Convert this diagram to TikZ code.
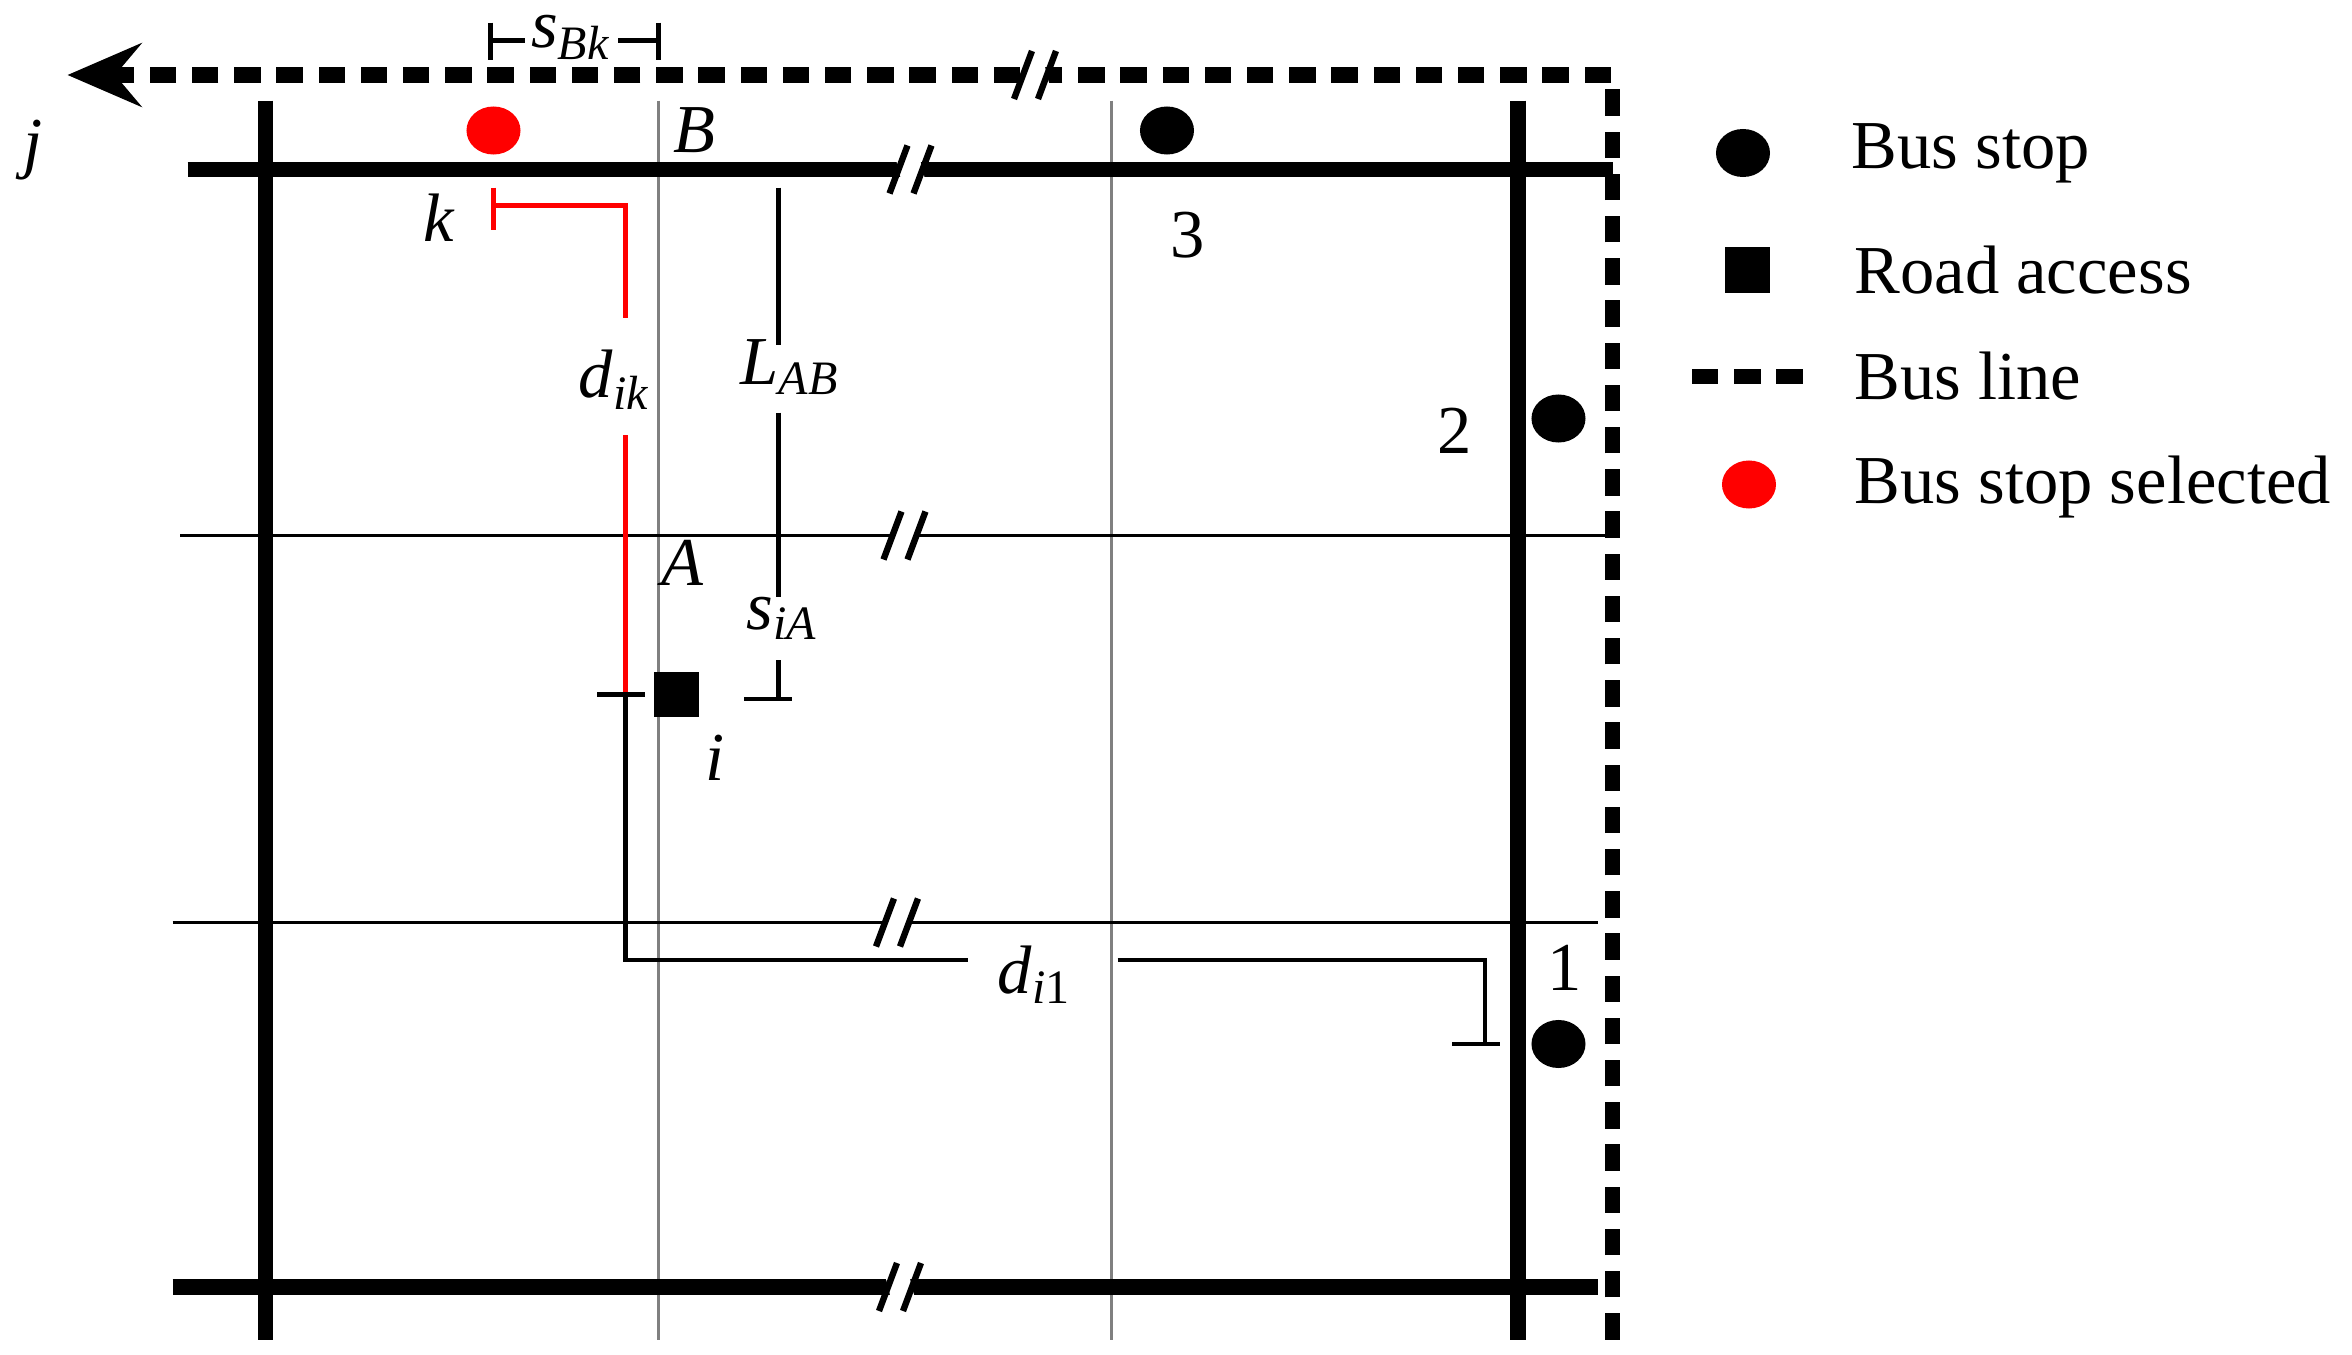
\documentclass[tikz,border=0pt]{standalone}
\usepackage{fontspec}
\setmainfont{Liberation Serif}
\usetikzlibrary{arrows.meta,shapes.geometric}
\newcommand\brk[2]{%
  \fill[white] (#1-12,#2-16) -- (#1+4,#2-16) -- (#1+12,#2+16) -- (#1-4,#2+16) -- cycle;
  \draw[black,line width=1.2pt] (#1-14,#2+16) -- (#1-2,#2-16) (#1+2,#2+16) -- (#1+14,#2-16);}
\newcommand\sym[2]{\textit{#1}\textsubscript{#2}}
\begin{document}
\begin{tikzpicture}[x=0.01cm,y=-0.01cm,
  thick road/.style={line width=3pt},
  thin road/.style={line width=0.6pt},
  grid/.style={line width=0.4pt,gray},
  bus/.style={line width=3pt,dash pattern=on 5pt off 3pt},
  stop/.style={ellipse,fill=black,minimum width=0.36cm,minimum height=0.32cm,inner sep=0},
  lbl/.style={font=\fontsize{13}{15}\selectfont},
  leg/.style={font=\fontsize{13}{15}\selectfont,anchor=west},
  dim/.style={line width=0.8pt}]
\useasboundingbox (0,0) rectangle (1568,903);
% grid
\draw[grid] (439,67) -- (439,893) (741,67) -- (741,893);
\draw[thick road] (125,113) -- (1075,113);
\brk{607}{113}
\draw[thin road] (120,357) -- (1070,357);
\brk{603}{357}
\draw[thin road] (115,615) -- (1065,615);
\brk{598}{615}
\draw[thick road] (115,858) -- (1065,858);
\brk{600}{858}
\draw[thick road] (177,67) -- (177,893) (1012,67) -- (1012,893);
% bus line
\draw[bus] (1075,893) -- (1075,50) -- (70,50);
\draw[line width=3pt,-{Stealth[length=14pt,width=12pt,inset=5pt]}] (80,50) -- (45,50);
\brk{690}{50}
% stops
\node[stop] (s3) at (778,87) {};
\node[stop] (s2) at (1039,279) {};
\node[stop] (s1) at (1039,696) {};
\node[stop,fill=red] (sk) at (329,87) {};
\node[fill=black,minimum size=0.3cm,inner sep=0] (acc) at (451,463) {};
% labels
\node[lbl] at (22,100) {\textit{j}};
\node[lbl] at (463,87) {\textit{B}};
\node[lbl] at (293,145) {\textit{k}};
\node[lbl] at (792,157) {3};
\node[lbl] at (970,287) {2};
\node[lbl] at (1043,645) {1};
\node[lbl] at (455,375) {\textit{A}};
\node[lbl] at (477,505) {\textit{i}};
\node[lbl] at (410,253) {\sym{d}{\textit{ik}}};
\node[lbl] at (527,245) {\sym{L}{\textit{AB}}};
\node[lbl] at (522,412) {\sym{s}{\textit{iA}}};
\node[lbl] at (381,25) {\sym{s}{\textit{Bk}}};
\node[lbl] at (690,650) {\sym{d}{\textit{i}1}};
% red distance
\draw[red,dim] (329,125) -- (329,153) (329,137) -- (417,137) -- (417,212) (417,290) -- (417,463);
\draw[dim] (398,463) -- (430,463) (417,463) -- (417,640) -- (645,640) (745,640) -- (990,640) -- (990,696) (968,696) -- (1000,696);
% L_AB / s_iA
\draw[dim] (519,125) -- (519,230) (519,275) -- (519,398) (519,440) -- (519,466) (496,466) -- (528,466);
% s_Bk
\draw[dim] (327,15) -- (327,40) (439,15) -- (439,40) (327,27) -- (350,27) (412,27) -- (439,27);
% legend
\node[stop] at (1162,102) {};
\node[leg] at (1222,102) {Bus stop};
\node[fill=black,minimum size=0.3cm,inner sep=0] at (1165,180) {};
\node[leg] at (1224,180) {Road access};
\draw[bus] (1128,251) -- (1203,251);
\node[leg] at (1224,251) {Bus line};
\node[stop,fill=red] at (1166,323) {};
\node[leg] at (1224,325) {Bus stop selected};
\end{tikzpicture}
\end{document}
